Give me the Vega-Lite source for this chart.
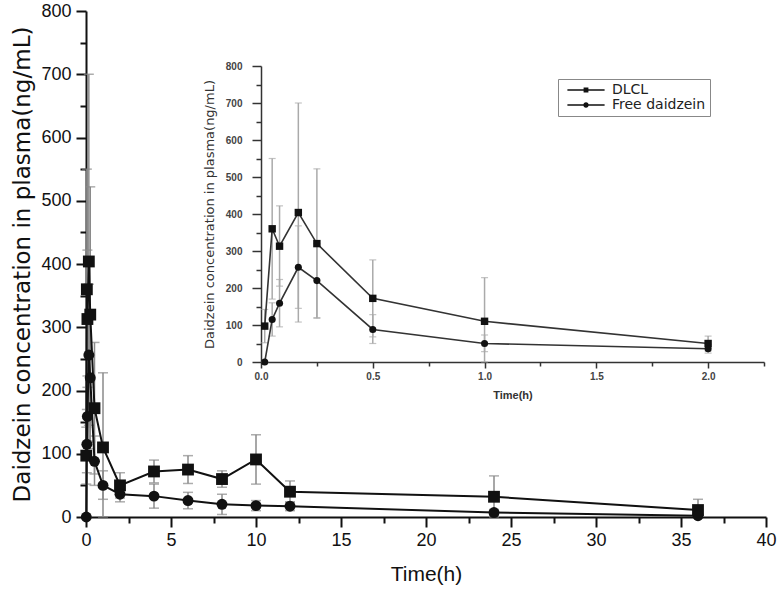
{
  "$schema": "https://vega.github.io/schema/vega-lite/v6.json",
  "width": 680,
  "height": 506,
  "autosize": {"type": "none"},
  "padding": {"left": 86, "top": 11, "right": 12, "bottom": 79},
  "background": "white",
  "config": {"view": {"stroke": null}, "axis": {"grid": false}, "font": "Liberation Sans"},
  "datasets": {
    "pk": [
      {"g": "DLCL", "t": 0.0167, "m": 97, "lo": 52, "hi": 142},
      {"g": "DLCL", "t": 0.05, "m": 360, "lo": 170, "hi": 550},
      {"g": "DLCL", "t": 0.083, "m": 313, "lo": 205, "hi": 422},
      {"g": "DLCL", "t": 0.167, "m": 404, "lo": 108, "hi": 700},
      {"g": "DLCL", "t": 0.25, "m": 320, "lo": 118, "hi": 522},
      {"g": "DLCL", "t": 0.5, "m": 172, "lo": 68, "hi": 276},
      {"g": "DLCL", "t": 1, "m": 110, "lo": 0, "hi": 228},
      {"g": "DLCL", "t": 2, "m": 50, "lo": 30, "hi": 70},
      {"g": "DLCL", "t": 4, "m": 72, "lo": 54, "hi": 90},
      {"g": "DLCL", "t": 6, "m": 75, "lo": 53, "hi": 97},
      {"g": "DLCL", "t": 8, "m": 60, "lo": 47, "hi": 73},
      {"g": "DLCL", "t": 10, "m": 91, "lo": 52, "hi": 130},
      {"g": "DLCL", "t": 12, "m": 40, "lo": 23, "hi": 57},
      {"g": "DLCL", "t": 24, "m": 32, "lo": 0, "hi": 65},
      {"g": "DLCL", "t": 36, "m": 11, "lo": 0, "hi": 28},
      {"g": "Free daidzein", "t": 0.0167, "m": 0, "lo": 0, "hi": 0},
      {"g": "Free daidzein", "t": 0.05, "m": 115, "lo": 70, "hi": 160},
      {"g": "Free daidzein", "t": 0.083, "m": 159, "lo": 95, "hi": 223},
      {"g": "Free daidzein", "t": 0.167, "m": 256, "lo": 145, "hi": 368},
      {"g": "Free daidzein", "t": 0.25, "m": 220, "lo": 120, "hi": 320},
      {"g": "Free daidzein", "t": 0.5, "m": 88, "lo": 50, "hi": 128},
      {"g": "Free daidzein", "t": 1, "m": 50, "lo": 28, "hi": 73},
      {"g": "Free daidzein", "t": 2, "m": 36, "lo": 24, "hi": 48},
      {"g": "Free daidzein", "t": 4, "m": 33, "lo": 14, "hi": 52},
      {"g": "Free daidzein", "t": 6, "m": 26, "lo": 13, "hi": 39},
      {"g": "Free daidzein", "t": 8, "m": 20, "lo": 4, "hi": 36},
      {"g": "Free daidzein", "t": 10, "m": 18, "lo": 10, "hi": 26},
      {"g": "Free daidzein", "t": 12, "m": 17, "lo": 10, "hi": 24},
      {"g": "Free daidzein", "t": 24, "m": 7, "lo": 2, "hi": 12},
      {"g": "Free daidzein", "t": 36, "m": 2, "lo": 0, "hi": 4}
    ]
  },
  "data": {"name": "pk"},
  "layer": [
    {
      "layer": [
        {
          "mark": {"type": "rule", "color": "#8a8a8a", "strokeWidth": 1.5},
          "encoding": {
            "x": {"field": "t", "type": "quantitative", "scale": {"domain": [0, 40], "nice": false},
              "axis": {"orient": "bottom", "values": [0, 5, 10, 15, 20, 25, 30, 35, 40], "tickSize": 10, "tickWidth": 2, "tickColor": "#111", "domainWidth": 2, "domainColor": "#111", "labelFontSize": 18, "labelColor": "#111", "labelPadding": 4, "labelFlush": false, "title": "Time(h)", "titleFontSize": 21, "titleFontWeight": "normal", "titleColor": "#111", "titlePadding": 14}},
            "y": {"field": "lo", "type": "quantitative", "scale": {"domain": [0, 800], "nice": false},
              "axis": {"orient": "left", "values": [0, 100, 200, 300, 400, 500, 600, 700, 800], "tickSize": 10, "tickWidth": 2, "tickColor": "#111", "domainWidth": 2, "domainColor": "#111", "labelFontSize": 18, "labelColor": "#111", "labelPadding": 5, "title": "Daidzein concentration in plasma(ng/mL)", "titleFont": "DejaVu Sans", "titleFontSize": 23, "titleFontWeight": "normal", "titleColor": "#111", "titlePadding": 6}},
            "y2": {"field": "hi"}
          }
        },
        {
          "mark": {"type": "tick", "orient": "horizontal", "color": "#8a8a8a", "size": 10, "thickness": 1.5},
          "encoding": {
            "x": {"field": "t", "type": "quantitative", "axis": null},
            "y": {"field": "hi", "type": "quantitative", "axis": null}
          }
        },
        {
          "mark": {"type": "tick", "orient": "horizontal", "color": "#8a8a8a", "size": 10, "thickness": 1.5},
          "encoding": {
            "x": {"field": "t", "type": "quantitative", "axis": null},
            "y": {"field": "lo", "type": "quantitative", "axis": null}
          }
        },
        {
          "mark": {"type": "line", "color": "#111", "strokeWidth": 2},
          "encoding": {
            "x": {"field": "t", "type": "quantitative", "axis": null},
            "y": {"field": "m", "type": "quantitative", "axis": null},
            "detail": {"field": "g"}
          }
        },
        {
          "transform": [{"filter": "datum.g == 'DLCL'"}],
          "mark": {"type": "point", "shape": "square", "filled": true, "color": "#111", "opacity": 1, "size": 140},
          "encoding": {
            "x": {"field": "t", "type": "quantitative",
              "axis": {"orient": "bottom", "values": [2.5, 7.5, 12.5, 17.5, 22.5, 27.5, 32.5, 37.5], "tickSize": 6, "tickWidth": 2, "tickColor": "#111", "labels": false, "domain": false, "title": null}},
            "y": {"field": "m", "type": "quantitative",
              "axis": {"orient": "left", "values": [50, 150, 250, 350, 450, 550, 650, 750], "tickSize": 6, "tickWidth": 2, "tickColor": "#111", "labels": false, "domain": false, "title": null}}
          }
        },
        {
          "transform": [{"filter": "datum.g != 'DLCL'"}],
          "mark": {"type": "point", "shape": "circle", "filled": true, "color": "#111", "opacity": 1, "size": 120},
          "encoding": {
            "x": {"field": "t", "type": "quantitative", "axis": null},
            "y": {"field": "m", "type": "quantitative", "axis": null}
          }
        }
      ],
      "resolve": {"axis": {"x": "independent", "y": "independent"}}
    },
    {
      "transform": [{"filter": "datum.t <= 2"}],
      "layer": [
        {
          "mark": {"type": "rule", "color": "#aaaaaa", "strokeWidth": 1.5},
          "encoding": {
            "x": {"field": "t", "type": "quantitative", "scale": {"domain": [0, 2.25], "range": [175, 678], "nice": false},
              "axis": {"orient": "bottom", "offset": -155, "values": [0, 0.5, 1, 1.5, 2], "format": ".1f", "tickSize": 6, "tickWidth": 1.5, "tickColor": "#333", "domainWidth": 1.5, "domainColor": "#333", "labelFontSize": 10, "labelFontWeight": "bold", "labelColor": "#444", "labelPadding": 3, "labelFlush": false, "title": "Time(h)", "titleFontSize": 11, "titleFontWeight": "bold", "titleColor": "#333", "titlePadding": 8}},
            "y": {"field": "lo", "type": "quantitative", "scale": {"domain": [0, 800], "range": [351, 55], "nice": false},
              "axis": {"orient": "left", "offset": -175, "values": [0, 100, 200, 300, 400, 500, 600, 700, 800], "tickSize": 9, "tickWidth": 1.5, "tickColor": "#333", "domainWidth": 1.5, "domainColor": "#333", "labelFontSize": 10, "labelFontWeight": "bold", "labelColor": "#444", "labelPadding": 10, "title": "Daidzein concentration in plasma(ng/mL)", "titleFont": "DejaVu Sans", "titleFontSize": 13, "titleFontWeight": "normal", "titleColor": "#333", "titlePadding": 9}},
            "y2": {"field": "hi"}
          }
        },
        {
          "mark": {"type": "tick", "orient": "horizontal", "color": "#aaaaaa", "size": 7, "thickness": 1.2},
          "encoding": {
            "x": {"field": "t", "type": "quantitative", "axis": null},
            "y": {"field": "hi", "type": "quantitative", "axis": null}
          }
        },
        {
          "mark": {"type": "tick", "orient": "horizontal", "color": "#aaaaaa", "size": 7, "thickness": 1.2},
          "encoding": {
            "x": {"field": "t", "type": "quantitative", "axis": null},
            "y": {"field": "lo", "type": "quantitative", "axis": null}
          }
        },
        {
          "mark": {"type": "line", "color": "#333", "strokeWidth": 1.6},
          "encoding": {
            "x": {"field": "t", "type": "quantitative", "axis": null},
            "y": {"field": "m", "type": "quantitative", "axis": null},
            "detail": {"field": "g"}
          }
        },
        {
          "transform": [{"filter": "datum.g == 'DLCL'"}],
          "mark": {"type": "point", "shape": "square", "filled": true, "color": "#111", "opacity": 1, "size": 55},
          "encoding": {
            "x": {"field": "t", "type": "quantitative",
              "axis": {"orient": "bottom", "offset": -155, "values": [0.25, 0.75, 1.25, 1.75, 2.25], "tickSize": 4, "tickWidth": 1.5, "tickColor": "#333", "labels": false, "domain": false, "title": null}},
            "y": {"field": "m", "type": "quantitative",
              "axis": {"orient": "left", "offset": -175, "values": [50, 150, 250, 350, 450, 550, 650, 750], "tickSize": 5, "tickWidth": 1.5, "tickColor": "#333", "labels": false, "domain": false, "title": null}}
          }
        },
        {
          "transform": [{"filter": "datum.g != 'DLCL'"}],
          "mark": {"type": "point", "shape": "circle", "filled": true, "color": "#111", "opacity": 1, "size": 50},
          "encoding": {
            "x": {"field": "t", "type": "quantitative", "axis": null},
            "y": {"field": "m", "type": "quantitative", "axis": null}
          }
        },
        {
          "mark": {"type": "point", "filled": true, "color": "#111", "opacity": 0, "size": 36},
          "encoding": {
            "x": {"field": "t", "type": "quantitative", "axis": null},
            "y": {"field": "m", "type": "quantitative", "axis": null},
            "shape": {"field": "g", "type": "nominal",
              "scale": {"domain": ["DLCL", "Free daidzein"], "range": ["M-6.2,-0.22H6.2V0.22H-6.2ZM-0.8,-0.8H0.8V0.8H-0.8Z", "M-6.2,-0.22H6.2V0.22H-6.2ZM0.9,0A0.9,0.9 0 1,1 -0.9,0A0.9,0.9 0 1,1 0.9,0Z"]},
              "legend": {"orient": "none", "legendX": 472, "legendY": 68, "title": null, "padding": 4, "strokeColor": "#888", "symbolSize": 36, "symbolOpacity": 1, "symbolFillColor": "#111", "symbolStrokeWidth": 0, "symbolOffset": 17, "labelOffset": 19, "labelFont": "DejaVu Sans", "labelFontSize": 14, "labelColor": "#222", "rowPadding": 1,
                "encode": {"symbols": {"update": {"fill": {"value": "#222"}, "opacity": {"value": 1}}}}}}
          }
        }
      ],
      "resolve": {"axis": {"x": "independent", "y": "independent"}}
    }
  ],
  "resolve": {"scale": {"x": "independent", "y": "independent"}}
}
